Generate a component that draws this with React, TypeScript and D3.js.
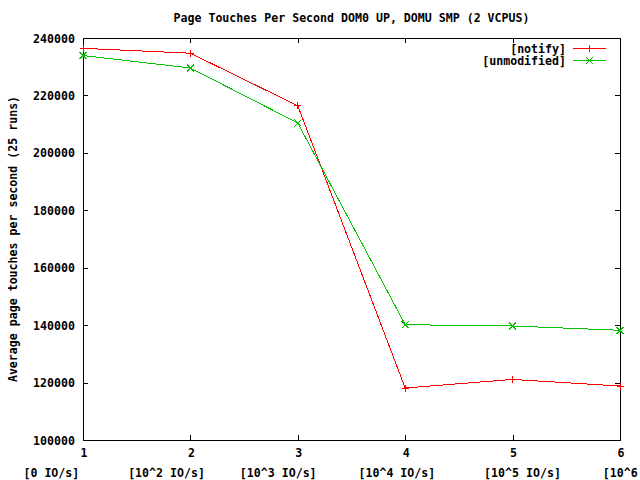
import React from "react";
import * as d3 from "d3";

const TITLE = "Page Touches Per Second DOM0 UP, DOMU SMP (2 VCPUS)";
const Y_LABEL = "Average page touches per second (25 runs)";
const X_LABEL =
  "[0 IO/s]       [10^2 IO/s]     [10^3 IO/s]      [10^4 IO/s]       [10^5 IO/s]      [10^6 IO/s]";
const xValues = [1, 2, 3, 4, 5, 6];
const notifyValues = [236400, 234700, 216400, 118100, 121100, 118800];
const unmodifiedValues = [233900, 229550, 210400, 140150, 139700, 138200];
const yTicks = [100000, 120000, 140000, 160000, 180000, 200000, 220000, 240000];
const seriesNames = ["[notify]", "[unmodified]"];

const W = 640;
const H = 480;
const M = { left: 83, right: 620, top: 38, bottom: 440 };
const FONT = "'DejaVu Sans Mono', monospace";
const RED = "#ff0000";
const GREEN = "#00c000";

const x = d3.scaleLinear().domain([1, 6]).range([M.left, M.right]);
const y = d3.scaleLinear().domain([100000, 240000]).range([M.bottom, M.top]);

function Plus({ cx, cy, color }: { cx: number; cy: number; color: string }) {
  const s = 3.5;
  return (
    <path
      d={`M${cx - s},${cy}H${cx + s}M${cx},${cy - s}V${cy + s}`}
      stroke={color}
      strokeWidth={1}
      fill="none"
      shapeRendering="crispEdges"
    />
  );
}
function Cross({ cx, cy, color }: { cx: number; cy: number; color: string }) {
  const s = 3.5;
  return (
    <path
      d={`M${cx - s},${cy - s}L${cx + s},${cy + s}M${cx - s},${cy + s}L${cx + s},${cy - s}`}
      stroke={color}
      strokeWidth={1}
      fill="none"
      shapeRendering="crispEdges"
    />
  );
}

export default function App() {
  const line = d3
    .line<number>()
    .x((_, i) => x(xValues[i]))
    .y((d) => y(d));
  const textStyle: React.CSSProperties = {
    fontFamily: FONT,
    fontSize: "11.6px",
    fontWeight: "bold",
    whiteSpace: "pre",
  };
  const tl = 5;
  const series = [
    { name: seriesNames[0], values: notifyValues, color: RED, Marker: Plus },
    { name: seriesNames[1], values: unmodifiedValues, color: GREEN, Marker: Cross },
  ];
  return (
    <svg
      width={W}
      height={H}
      style={{ position: "absolute", left: 0, top: 0, background: "#fff" }}
    >
      <rect x={0} y={0} width={W} height={H} fill="#fff" />
      {/* ticks */}
      {yTicks.map((t) => (
        <g key={"y" + t}>
          <line x1={M.left} x2={M.left + tl} y1={Math.round(y(t)) + 0.5} y2={Math.round(y(t)) + 0.5} stroke="#000" shapeRendering="crispEdges" />
          <line x1={M.right - tl} x2={M.right} y1={Math.round(y(t)) + 0.5} y2={Math.round(y(t)) + 0.5} stroke="#000" shapeRendering="crispEdges" />
          <text x={75} y={y(t) + 4.5} textAnchor="end" style={textStyle}>
            {t}
          </text>
        </g>
      ))}
      {xValues.map((v) => (
        <g key={"x" + v}>
          <line x1={Math.round(x(v)) + 0.5} x2={Math.round(x(v)) + 0.5} y1={M.bottom} y2={M.bottom - tl} stroke="#000" shapeRendering="crispEdges" />
          <line x1={Math.round(x(v)) + 0.5} x2={Math.round(x(v)) + 0.5} y1={M.top} y2={M.top + tl} stroke="#000" shapeRendering="crispEdges" />
          <text x={x(v) + 1} y={457} textAnchor="middle" style={textStyle}>
            {v}
          </text>
        </g>
      ))}
      {/* border */}
      <rect
        x={M.left + 0.5}
        y={M.top + 0.5}
        width={M.right - M.left}
        height={M.bottom - M.top}
        fill="none"
        stroke="#000"
        shapeRendering="crispEdges"
      />
      {/* series */}
      {series.map((s) => (
        <g key={s.name}>
          <path d={line(s.values) || ""} fill="none" stroke={s.color} strokeWidth={1} shapeRendering="crispEdges" />
          {s.values.map((v, i) => (
            <s.Marker key={i} cx={x(xValues[i])} cy={y(v)} color={s.color} />
          ))}
        </g>
      ))}
      {/* legend */}
      {series.map((s, i) => {
        const ly = 48 + i * 12.5;
        return (
          <g key={"lg" + s.name}>
            <text x={566} y={ly + 4.5} textAnchor="end" style={textStyle}>
              {s.name}
            </text>
            <line x1={573} x2={606} y1={ly} y2={ly} stroke={s.color} shapeRendering="crispEdges" />
            <s.Marker cx={589.5} cy={ly} color={s.color} />
          </g>
        );
      })}
      {/* titles */}
      <text x={(M.left + M.right) / 2} y={22} textAnchor="middle" style={textStyle}>
        {TITLE}
      </text>
      <text
        transform={`translate(17,${(M.top + M.bottom) / 2}) rotate(-90)`}
        textAnchor="middle"
        style={textStyle}
      >
        {Y_LABEL}
      </text>
      <text x={(M.left + M.right) / 2} y={477} textAnchor="middle" style={textStyle}>
        {X_LABEL}
      </text>
    </svg>
  );
}
